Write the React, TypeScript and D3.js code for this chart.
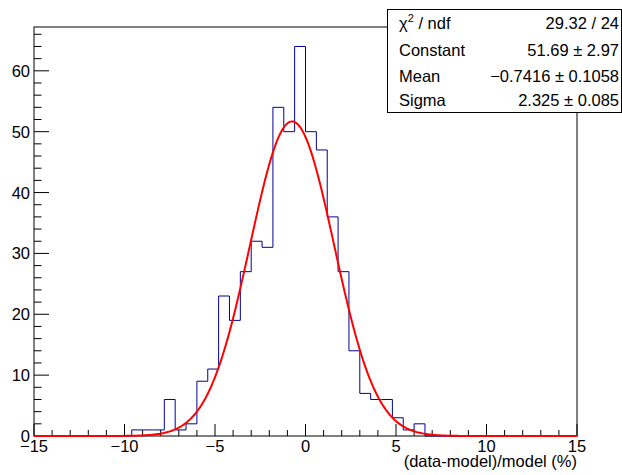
import React from "react";
import * as d3 from "d3";

const X_MIN = -15;
const X_MAX = 15;
const Y_MAX = 67.2;
const binCounts = [
  0, 0, 0, 0, 0, 0, 0, 0, 0,
  1, 1, 1, 6, 1, 2, 9, 11, 23, 19, 27, 32, 31, 54, 50, 64, 50, 47, 36, 27, 14, 7, 6, 6, 3, 1, 2,
  0, 0, 0, 0, 0, 0, 0, 0, 0, 0, 0, 0, 0, 0,
];
const xMajorTicks = [-15, -10, -5, 0, 5, 10, 15];
const xTickLabels = ["\u221215", "\u221210", "\u22125", "0", "5", "10", "15"];
const yMajorTicks = [0, 10, 20, 30, 40, 50, 60];
const fitConstant = 51.69;
const fitMean = -0.7416;
const fitSigma = 2.325;
const statLabels = ["ndf", "Constant", "Mean", "Sigma"];
const statValues = ["29.32 / 24", "51.69 \u00b1 2.97", "\u22120.7416 \u00b1 0.1058", "2.325 \u00b1 0.085"];
const xTitle = "(data-model)/model (%)";

const W = 622;
const H = 475;
const L = 34;
const R = 577;
const T = 27;
const B = 436;
const FONT = "'Liberation Sans', Arial, Helvetica, sans-serif";

export default function App() {
  const x = d3.scaleLinear().domain([X_MIN, X_MAX]).range([L, R]);
  const y = d3.scaleLinear().domain([0, Y_MAX]).range([B, T]);
  const nb = binCounts.length;
  const bw = (X_MAX - X_MIN) / nb;

  // histogram outline
  const pts: [number, number][] = [[X_MIN, 0]];
  binCounts.forEach((c, i) => {
    pts.push([X_MIN + i * bw, c]);
    pts.push([X_MIN + (i + 1) * bw, c]);
  });
  pts.push([X_MAX, 0]);
  const histPath = d3.line<[number, number]>().x((d) => x(d[0])).y((d) => y(d[1]))(pts) || "";

  // fit function from parameters
  const fitPts: [number, number][] = d3.range(0, 401).map((i) => {
    const xv = X_MIN + (i * (X_MAX - X_MIN)) / 400;
    const z = (xv - fitMean) / fitSigma;
    return [xv, fitConstant * Math.exp(-0.5 * z * z)];
  });
  const fitPath = d3.line<[number, number]>().x((d) => x(d[0])).y((d) => y(Math.min(d[1], Y_MAX))).curve(d3.curveLinear)(fitPts) || "";

  const xMinor = d3.range(X_MIN, X_MAX + 0.001, 1).filter((v) => !xMajorTicks.includes(v));
  const yMinor = d3.range(0, Y_MAX, 2).filter((v) => !yMajorTicks.includes(v));

  const boxL = 387.5, boxT = 9.5, boxR = 621.5, boxB = 112.5;
  const rowBase = [28.5, 55.5, 81.5, 105.5];

  return (
    <svg width={W} height={H} style={{ position: "absolute", left: 0, top: 0, background: "#fff" }} fontFamily={FONT}>
      <rect x={0} y={0} width={W} height={H} fill="#fff" />
      {/* frame */}
      <rect x={L} y={T} width={R - L} height={B - T} fill="none" stroke="#000" strokeWidth={1} />
      {/* x ticks */}
      {xMajorTicks.map((v) => (
        <line key={"xM" + v} x1={x(v)} x2={x(v)} y1={B} y2={B - 12} stroke="#000" strokeWidth={1} />
      ))}
      {xMinor.map((v) => (
        <line key={"xm" + v} x1={x(v)} x2={x(v)} y1={B} y2={B - 6} stroke="#000" strokeWidth={1} />
      ))}
      {/* y ticks */}
      {yMajorTicks.map((v) => (
        <line key={"yM" + v} x1={L} x2={L + 15} y1={y(v)} y2={y(v)} stroke="#000" strokeWidth={1} />
      ))}
      {yMinor.map((v) => (
        <line key={"ym" + v} x1={L} x2={L + 7.5} y1={y(v)} y2={y(v)} stroke="#000" strokeWidth={1} />
      ))}
      {/* tick labels */}
      {xMajorTicks.map((v, i) => (
        <text key={"xl" + v} x={x(v)} y={452} fontSize={16.5} textAnchor="middle" fill="#000">
          {xTickLabels[i]}
        </text>
      ))}
      {yMajorTicks.map((v) => (
        <text key={"yl" + v} x={30} y={y(v) + 6} fontSize={16.5} textAnchor="end" fill="#000">
          {v}
        </text>
      ))}
      <text x={577} y={467} fontSize={16.5} textAnchor="end" fill="#000">
        {xTitle}
      </text>
      {/* histogram */}
      <path d={histPath} fill="none" stroke="#000099" strokeWidth={1} />
      {/* fit */}
      <path d={fitPath} fill="none" stroke="#ff0000" strokeWidth={2} />
      {/* stat box */}
      <rect x={boxL} y={boxT} width={boxR - boxL} height={boxB - boxT} fill="#fff" stroke="#000" strokeWidth={1} />
      {statLabels.map((lab, i) => (
        <text key={"sl" + i} x={399} y={rowBase[i]} fontSize={16.5} fill="#000">
          {i === 0 ? (
            <>
              <tspan>{"\u03c7"}</tspan>
              <tspan fontSize={11} dy={-7}>2</tspan>
              <tspan dy={7}>{" / ndf"}</tspan>
            </>
          ) : (
            lab
          )}
        </text>
      ))}
      {statValues.map((val, i) => (
        <text key={"sv" + i} x={619} y={rowBase[i]} fontSize={16.5} textAnchor="end" fill="#000">
          {val}
        </text>
      ))}
    </svg>
  );
}
